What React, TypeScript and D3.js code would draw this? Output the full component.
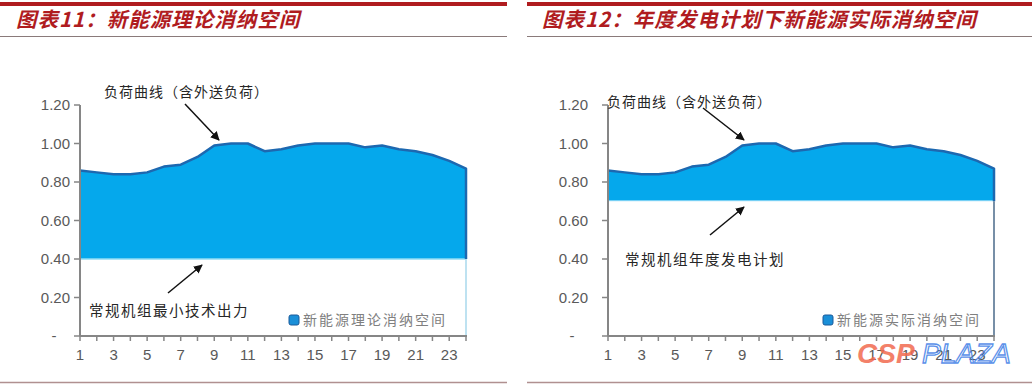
import React from 'react';
import * as d3 from 'd3';

// hourly load curve (incl. export load), per-unit
const hours = [1, 2, 3, 4, 5, 6, 7, 8, 9, 10, 11, 12, 13, 14, 15, 16, 17, 18, 19, 20, 21, 22, 23, 24];
const load = [0.86, 0.85, 0.84, 0.84, 0.85, 0.88, 0.89, 0.93, 0.99, 1.0, 1.0, 0.96, 0.97, 0.99, 1.0, 1.0, 1.0, 0.98, 0.99, 0.97, 0.96, 0.94, 0.91, 0.87];
const minTechOutput = 0.4;
const annualPlan = 0.7;
const yTicks = [0, 0.2, 0.4, 0.6, 0.8, 1.0, 1.2];
const xTickLabels = [1, 3, 5, 7, 9, 11, 13, 15, 17, 19, 21, 23];

const W = 1032;
const H = 386;
const RED = '#b01c1f';
const FILL = '#05a8ec';
const EDGE = '#1d68b0';
const CJK = '"Noto Sans CJK SC", sans-serif';
const LAT = '"Liberation Sans", Arial, sans-serif';

type PanelProps = {
  x0: number;
  title: string;
  base: number;
  legend: string;
  baseNote: string;
  edgeColor: string;
  topNote: { x: number; y: number; from: [number, number]; to: [number, number] };
  lowNote: { x: number; y: number; from: [number, number]; to: [number, number] };
  legendX: number;
  labelRight: number;
  id: string;
};

const Panel = (p: PanelProps) => {
  const x = d3.scaleLinear().domain([1, 24]).range([p.x0, p.x0 + 386]);
  const y = d3.scaleLinear().domain([0, 1.2]).range([336, 105]);

  const area = d3.area<number>()
    .x((d, i) => x(hours[i]))
    .y0(y(p.base))
    .y1(d => y(d));
  const top = d3.line<number>()
    .x((d, i) => x(hours[i]))
    .y(d => y(d));
  const edgePath = top(load) + `L${x(24)},${y(p.base)}`;

  const left = p.x0 - 80 + (p.id === 'a' ? 0 : 0);
  const lineStart = p.id === 'a' ? 0 : 527;
  const lineEnd = p.id === 'a' ? 507 : W;

  return (
    <g>
      <line x1={lineStart} x2={lineEnd} y1={4} y2={4} stroke={RED} strokeWidth={4} />
      <text x={left + (p.id === 'a' ? 16 : 14)} y={27} fill={RED} fontFamily={CJK} fontWeight={700}
        fontStyle="italic" fontSize={20.5} letterSpacing={1}>{p.title}</text>
      <line x1={lineStart} x2={lineEnd} y1={36.5} y2={36.5} stroke="#8a7a7a" strokeWidth={1} />
      <line x1={p.id === 'a' ? 0 : 527} x2={lineEnd} y1={382.5} y2={382.5} stroke="#b09090" strokeWidth={1.5} />

      {/* area */}
      <path d={area(load) || ''} fill={FILL} />
      <line x1={x(1)} x2={x(24)} y1={y(p.base)} y2={y(p.base)} stroke={p.id === 'a' ? '#8fdcf5' : '#e8f7fd'} strokeWidth={1.5} />
      <path d={edgePath} fill="none" stroke={EDGE} strokeWidth={2.5} strokeLinejoin="round" />
      <line x1={x(24)} x2={x(24)} y1={y(p.base)} y2={y(0)} stroke={p.edgeColor} strokeWidth={1.5} />

      {/* y axis */}
      <line x1={p.x0} x2={p.x0} y1={y(1.2)} y2={y(0)} stroke="#868686" strokeWidth={2} />
      {yTicks.map(t => (
        <g key={t}>
          <line x1={p.x0 - 6} x2={p.x0} y1={y(t)} y2={y(t)} stroke="#868686" strokeWidth={1.5} />
          <text x={t === 0 ? p.labelRight - 16 : p.labelRight} y={y(t)} dy="0.35em"
            textAnchor={t === 0 ? 'middle' : 'end'} fontFamily={LAT} fontSize={15} fill="#595959">
            {t === 0 ? '-' : t.toFixed(2)}
          </text>
        </g>
      ))}

      {/* x axis */}
      <line x1={p.x0} x2={x(24) + 1} y1={y(0)} y2={y(0)} stroke="#868686" strokeWidth={2} />
      {hours.map(h => (
        <line key={h} x1={x(h)} x2={x(h)} y1={y(0)} y2={y(0) + 5} stroke="#868686" strokeWidth={1.5} />
      ))}
      {xTickLabels.map(h => (
        <text key={h} x={x(h)} y={360} textAnchor="middle" fontFamily={LAT} fontSize={15} fill="#595959">{h}</text>
      ))}

      {/* annotations */}
      <text x={p.topNote.x} y={p.topNote.y} dy="0.35em" fontFamily={CJK} fontSize={14} letterSpacing={1}
        fill="#262626">负荷曲线（含外送负荷）</text>
      <line x1={p.topNote.from[0]} y1={p.topNote.from[1]} x2={p.topNote.to[0]} y2={p.topNote.to[1]}
        stroke="#111" strokeWidth={1.5} markerEnd={`url(#arr-${p.id})`} />
      <text x={p.lowNote.x} y={p.lowNote.y} dy="0.35em" fontFamily={CJK} fontSize={14.5} letterSpacing={1.5}
        fill="#262626">{p.baseNote}</text>
      <line x1={p.lowNote.from[0]} y1={p.lowNote.from[1]} x2={p.lowNote.to[0]} y2={p.lowNote.to[1]}
        stroke="#111" strokeWidth={1.5} markerEnd={`url(#arr-${p.id})`} />

      {/* legend */}
      <rect x={p.legendX} y={315} width={10} height={10} rx={2} fill="#1a8fd8" stroke="#1a5a9a" strokeWidth={1} />
      <text x={p.legendX + 14} y={320} dy="0.35em" fontFamily={CJK} fontSize={14} letterSpacing={2}
        fill="#808080">{p.legend}</text>

      <defs>
        <marker id={`arr-${p.id}`} viewBox="0 0 10 10" refX={9} refY={5} markerWidth={9} markerHeight={9}
          markerUnits="userSpaceOnUse" orient="auto">
          <path d="M0,0 L10,5 L0,10 Z" fill="#111" />
        </marker>
      </defs>
    </g>
  );
};

export default function App() {
  return (
    <svg width={W} height={H} style={{ position: 'absolute', left: 0, top: 0, background: '#fff' }}>
      <rect width={W} height={H} fill="#fff" />
      <Panel id="a" x0={80} title="图表11：新能源理论消纳空间" base={minTechOutput}
        legend="新能源理论消纳空间" baseNote="常规机组最小技术出力" edgeColor="#a8d8ec"
        topNote={{ x: 104, y: 92, from: [185, 104], to: [219, 140] }}
        lowNote={{ x: 89, y: 311, from: [168, 293], to: [202, 265] }}
        legendX={289} labelRight={70} />
      <Panel id="b" x0={608} title="图表12：年度发电计划下新能源实际消纳空间" base={annualPlan}
        legend="新能源实际消纳空间" baseNote="常规机组年度发电计划" edgeColor="#4a6a8a"
        topNote={{ x: 607, y: 102, from: [703, 108], to: [744, 140] }}
        lowNote={{ x: 625, y: 260, from: [710, 235], to: [744, 207] }}
        legendX={823} labelRight={588} />
      {/* watermark */}
      <text x={857} y={363} fontFamily={LAT} fontWeight={700} fontStyle="italic" fontSize={28}
        fill="#f26b4f" opacity={0.85}>CSP</text>
      <text x={922} y={363} fontFamily={LAT} fontStyle="italic" fontSize={28} fill="none"
        stroke="#4a86e8" strokeWidth={1.3} opacity={0.9}>PLAZA</text>
    </svg>
  );
}
